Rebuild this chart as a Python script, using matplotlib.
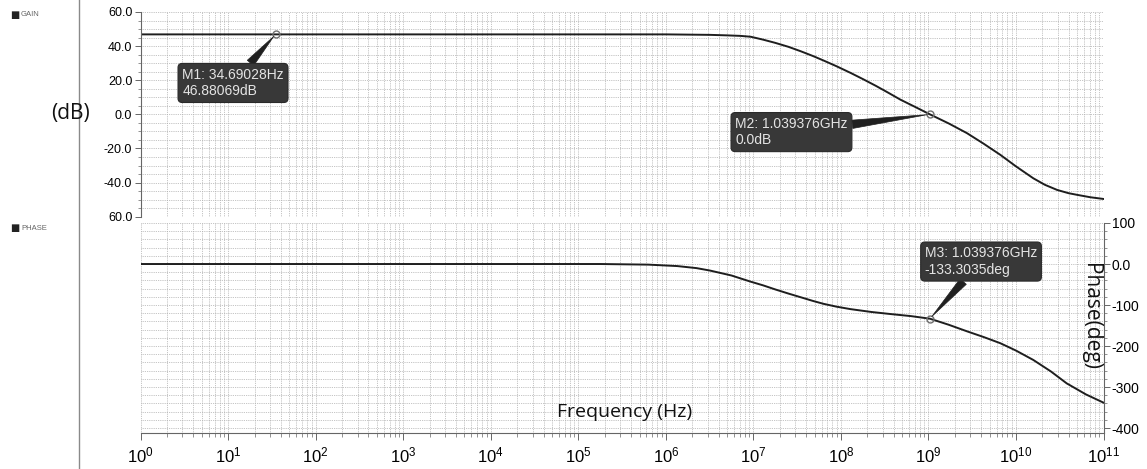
import matplotlib
matplotlib.use("Agg")
import matplotlib.pyplot as plt
from matplotlib.lines import Line2D
from matplotlib.ticker import LogLocator, LogFormatterMathtext, MultipleLocator, NullFormatter

plt.rcParams['font.family'] = ['Liberation Sans', 'DejaVu Sans']
plt.rcParams['mathtext.fontset'] = 'custom'
plt.rcParams['mathtext.rm'] = 'Liberation Sans'

# gain curve (Hz, dB)
gain_freq = [1, 1e6, 3.2e6, 5e6, 7.1e6, 9.3e6, 1.29e7, 1.78e7, 2.51e7, 3.47e7,
             4.79e7, 6.31e7, 8.91e7, 1.29e8, 1.78e8, 2.51e8, 3.47e8, 4.79e8,
             7.08e8, 1.039e9, 1.7e9, 2.75e9, 4.27e9, 6.61e9, 1e10, 1.58e10,
             2.14e10, 2.95e10, 3.98e10, 5.01e10, 7.08e10, 1e11]
gain_db = [46.88, 46.88, 46.6, 46.3, 46.0, 45.5, 43.8, 41.9, 39.6, 37.0,
           34.2, 31.6, 28.2, 24.3, 20.7, 16.7, 12.7, 8.6,
           4.3, 0.0, -5.3, -11.0, -17.2, -23.7, -30.5, -37.5,
           -41.3, -44.3, -46.2, -47.2, -48.6, -49.6]

# phase curve (Hz, deg)
phase_freq = [1, 1.8e5, 6.3e5, 1.35e6, 2.24e6, 3.2e6, 5.62e6, 9.3e6, 1.29e7,
              1.78e7, 2.51e7, 3.47e7, 4.79e7, 6.31e7, 8.91e7, 1.29e8, 2.24e8,
              3.7e8, 6.31e8, 1.039e9, 1.7e9, 2.75e9, 4.27e9, 6.61e9, 1e10,
              1.58e10, 2.51e10, 3.8e10, 6.31e10, 1e11]
phase_deg = [0, 0, -1.5, -5, -10, -16, -28, -43, -52,
             -62, -72, -81, -90, -97, -104, -110, -117,
             -122, -127, -133.3, -148, -164, -178, -193, -211,
             -234, -262, -291, -318, -338]

gain_ticks = [60, 40, 20, 0, -20, -40, -60]
gain_ticklabels = ['60.0', '40.0', '20.0', '0.0', '-20.0', '-40.0', '60.0']
phase_ticks = [100, 0, -100, -200, -300, -400]
phase_ticklabels = ['100', '0.0', '-100', '-200', '-300', '-400']

# markers: (freq, value, label, text anchor freq, text anchor value)
m_gain = [(34.69028, 46.88069, 'M1: 34.69028Hz\n46.88069dB', 2.98, 18.4),
          (1.039376e9, 0.0, 'M2: 1.039376GHz\n0.0dB', 6.2e6, -10.4)]
m_phase = [(1.039376e9, -133.3035, 'M3: 1.039376GHz\n-133.3035deg', 9.1e8, 6)]

W, H = 1147, 469
fig = plt.figure(figsize=(W / 100, H / 100), dpi=100)
x0, x1 = 140.7 / W, 1103.5 / W
ax1 = fig.add_axes([x0, 1 - 216.7 / H, x1 - x0, (216.7 - 12) / H])
ax2 = fig.add_axes([x0, 1 - 433 / H, x1 - x0, (433 - 223) / H])

grid_kw = dict(color='#b0b0b0', linestyle=(0, (1, 1.2)), linewidth=0.6)
line_col = '#1e1e1e'

for ax in (ax1, ax2):
    ax.set_xscale('log')
    ax.set_xlim(1, 1e11)
    ax.xaxis.set_major_locator(LogLocator(base=10, numticks=20))
    ax.xaxis.set_minor_locator(LogLocator(base=10, subs=range(2, 10), numticks=200))
    ax.grid(True, which='both', **grid_kw)
    ax.set_axisbelow(True)
    for s in ax.spines.values():
        s.set_color('#666666')
        s.set_linewidth(0.8)

# gain panel
ax1.plot(gain_freq, gain_db, color=line_col, lw=1.4)
ax1.set_ylim(-60, 60)
ax1.set_yticks(gain_ticks)
ax1.set_yticklabels(gain_ticklabels, fontsize=9)
ax1.yaxis.set_minor_locator(MultipleLocator(5))
ax1.tick_params(axis='y', which='major', length=4, width=0.7, color='#666666', pad=2)
ax1.tick_params(axis='y', which='minor', length=2, width=0.5, color='#666666')
ax1.tick_params(axis='x', which='both', bottom=False, labelbottom=False)
for side in ('top', 'right', 'bottom'):
    ax1.spines[side].set_visible(False)

# phase panel
ax2.plot(phase_freq, phase_deg, color=line_col, lw=1.4)
ax2.set_ylim(-412, 100)
ax2.yaxis.tick_right()
ax2.set_yticks(phase_ticks)
ax2.set_yticklabels(phase_ticklabels, fontsize=10)
ax2.yaxis.set_minor_locator(MultipleLocator(20))
ax2.tick_params(axis='y', which='major', length=4, width=0.7, color='#666666', pad=2)
ax2.tick_params(axis='y', which='minor', length=2, width=0.5, color='#666666')
ax2.xaxis.set_major_formatter(LogFormatterMathtext())
ax2.xaxis.set_minor_formatter(NullFormatter())
ax2.tick_params(axis='x', which='major', length=5, width=0.7, color='#666666',
                labelsize=12, pad=4)
ax2.tick_params(axis='x', which='minor', length=3, width=0.5, color='#666666')
for side in ('top', 'left'):
    ax2.spines[side].set_visible(False)


def add_markers(ax, markers):
    for f, v, label, tf, tv in markers:
        ax.plot([f], [v], marker='o', ms=5, mfc='none', mec='#707070', mew=1, zorder=5)
        ax.annotate(label, xy=(f, v), xytext=(tf, tv), textcoords='data',
                    ha='left', va='center', fontsize=10, color='#e4e4e4',
                    linespacing=1.25, zorder=6,
                    bbox=dict(boxstyle='round,pad=0.3,rounding_size=0.3',
                              fc='#383838', ec='#2a2a2a', lw=0.8),
                    arrowprops=dict(arrowstyle='wedge,tail_width=0.6',
                                    fc='#202020', ec='#202020', lw=0.5,
                                    shrinkA=0, shrinkB=2))


add_markers(ax1, m_gain)
add_markers(ax2, m_phase)

# axis captions
sans2 = ['Open Sans', 'DejaVu Sans']
fig.text(71 / W, 1 - 113 / H, '(dB)', fontsize=15, family=sans2,
         ha='center', va='center', color='#111111')
ax2.text(0.987, 0.557, 'Phase(deg)', rotation=270, transform=ax2.transAxes,
         fontsize=15, family=sans2, ha='center', va='center', color='#111111')
fig.text(625 / W, 1 - 412 / H, 'Frequency (Hz)', fontsize=14, family=sans2,
         ha='center', va='center', color='#111111')

# left legend column and separator
fig.add_artist(Line2D([79 / W, 79 / W], [0, 1], transform=fig.transFigure,
                      color='#8a8a8a', lw=1.0))
for name, y in (('GAIN', 15), ('PHASE', 228)):
    fig.text(10 / W, 1 - y / H, '\u25a0', fontsize=7, family=['DejaVu Sans'],
             ha='left', va='center', color='#222222')
    fig.text(21 / W, 1 - y / H, name, fontsize=5.5, ha='left', va='center',
             color='#666666')

plt.savefig('out.png', dpi=100)
